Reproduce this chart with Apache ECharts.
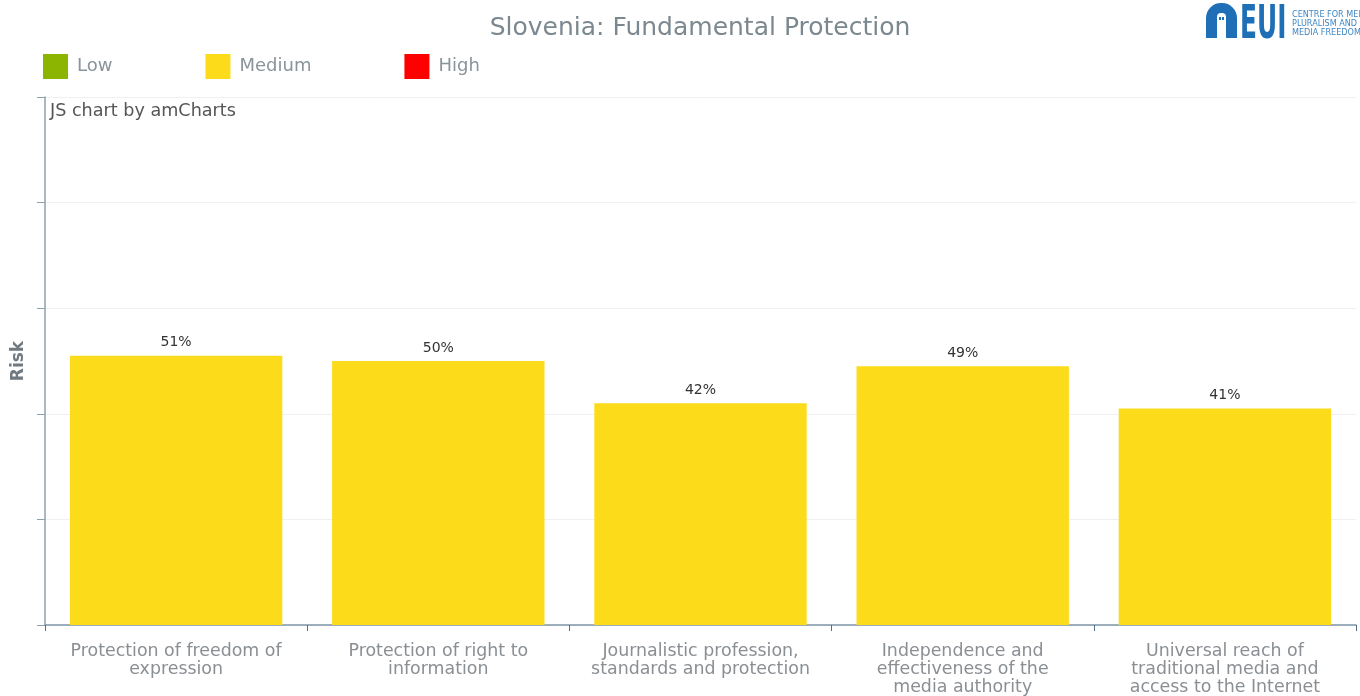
<!DOCTYPE html>
<html>
<head>
<meta charset="utf-8">
<title>Slovenia: Fundamental Protection</title>
<script src="https://cdn.jsdelivr.net/npm/echarts@6/dist/echarts.min.js"></script>
<style>
  html, body { margin: 0; padding: 0; background: #ffffff; }
  #chart { width: 1360px; height: 696px; }
</style>
</head>
<body>
<div id="chart"></div>
<script>
// Indicator names and risk scores (percent)
const categories = [
  'Protection of freedom of\nexpression',
  'Protection of right to\ninformation',
  'Journalistic profession,\nstandards and protection',
  'Independence and\neffectiveness of the\nmedia authority',
  'Universal reach of\ntraditional media and\naccess to the Internet'
];
const riskValues = [51, 50, 42, 49, 41];

// Risk bands
const bandNames = ['Low', 'Medium', 'High'];
const bandColors = ['#8bb500', '#fcdb1a', '#ff0000'];
const bandLimits = [[0, 33], [34, 66], [67, 100]];

function bandOf(v) {
  for (let i = 0; i < bandLimits.length; i++) {
    if (v >= bandLimits[i][0] && v <= bandLimits[i][1]) return i;
  }
  return 1;
}

const series = bandNames.map((name, bi) => ({
  name: name,
  type: 'bar',
  stack: 'risk',
  barWidth: '81%',
  itemStyle: { color: bandColors[bi] },
  label: {
    show: true,
    position: 'top',
    distance: 6,
    formatter: '{c}%',
    color: '#333333',
    fontFamily: 'DejaVu Sans',
    fontSize: 14
  },
  emphasis: { disabled: true },
  data: riskValues.map(v => (bandOf(v) === bi ? v : null))
}));

const chart = echarts.init(document.getElementById('chart'), null, { renderer: 'canvas' });

chart.setOption({
  animation: false,
  legend: {
    left: 43,
    top: 54,
    padding: 0,
    itemWidth: 25,
    itemHeight: 25,
    itemGap: 93,
    icon: 'rect',
    data: bandNames,
    selectedMode: false,
    textStyle: {
      color: '#8a949b',
      fontFamily: 'DejaVu Sans',
      fontSize: 18,
      padding: [0, 0, 0, 4]
    }
  },
  grid: { left: 45, right: 4, top: 97, bottom: 71, containLabel: false },
  xAxis: {
    type: 'category',
    data: categories,
    axisLine: { lineStyle: { color: '#7f97a8', width: 1.5 } },
    axisTick: { show: true, length: 6, lineStyle: { color: '#4f6f86' } },
    axisLabel: {
      margin: 17,
      interval: 0,
      color: '#8a8f94',
      fontFamily: 'DejaVu Sans',
      fontSize: 17.4,
      lineHeight: 18
    }
  },
  yAxis: {
    type: 'value',
    min: 0,
    max: 100,
    interval: 20,
    name: 'Risk',
    nameLocation: 'middle',
    nameGap: 18,
    nameRotate: 90,
    nameTextStyle: {
      color: '#6f7a82',
      fontFamily: 'DejaVu Sans',
      fontWeight: 'bold',
      fontSize: 17
    },
    axisLine: { show: true, lineStyle: { color: '#8fa0ad', width: 1.5 } },
    axisTick: { show: true, length: 8, lineStyle: { color: '#8fa0ad' } },
    axisLabel: { show: false },
    splitLine: { lineStyle: { color: '#f0f0f0', width: 1 } }
  },
  series: series,
  graphic: [
    {
      type: 'text',
      x: 700,
      y: 28,
      style: {
        text: 'Slovenia: Fundamental Protection',
        fill: '#7c8890',
        font: '25px "DejaVu Sans"',
        align: 'center',
        verticalAlign: 'middle'
      }
    },
    {
      type: 'text',
      x: 50,
      y: 111,
      style: {
        text: 'JS chart by amCharts',
        fill: '#555555',
        font: '17.6px "DejaVu Sans"',
        verticalAlign: 'middle'
      }
    },
    // EUI logo: arch, wordmark and centre name
    {
      type: 'group',
      x: 1206,
      y: 3,
      children: [
        { type: 'rect', shape: { x: 0, y: 0, width: 31, height: 35, r: [15, 15, 0, 0] }, style: { fill: '#1f6fb6' } },
        { type: 'rect', shape: { x: 11, y: 10, width: 9, height: 25, r: [4, 4, 0, 0] }, style: { fill: '#ffffff' } },
        { type: 'rect', shape: { x: 13, y: 14, width: 2, height: 3 }, style: { fill: '#1f6fb6' } },
        { type: 'rect', shape: { x: 16, y: 14, width: 2, height: 3 }, style: { fill: '#1f6fb6' } },
        {
          type: 'text', x: 34, y: 0, scaleX: 0.6, scaleY: 1,
          style: { text: 'EUI', fill: '#1f6fb6', font: 'bold 46px "Liberation Sans Narrow", "DejaVu Sans Condensed", sans-serif', verticalAlign: 'top' }
        },
        { type: 'text', x: 86, y: 7, style: { text: 'CENTRE FOR MEDIA', fill: '#3f86c4', font: '9px "DejaVu Sans Condensed", sans-serif' } },
        { type: 'text', x: 86, y: 16, style: { text: 'PLURALISM AND', fill: '#3f86c4', font: '9px "DejaVu Sans Condensed", sans-serif' } },
        { type: 'text', x: 86, y: 25, style: { text: 'MEDIA FREEDOM', fill: '#3f86c4', font: '9px "DejaVu Sans Condensed", sans-serif' } }
      ]
    }
  ]
});
</script>
</body>
</html>
